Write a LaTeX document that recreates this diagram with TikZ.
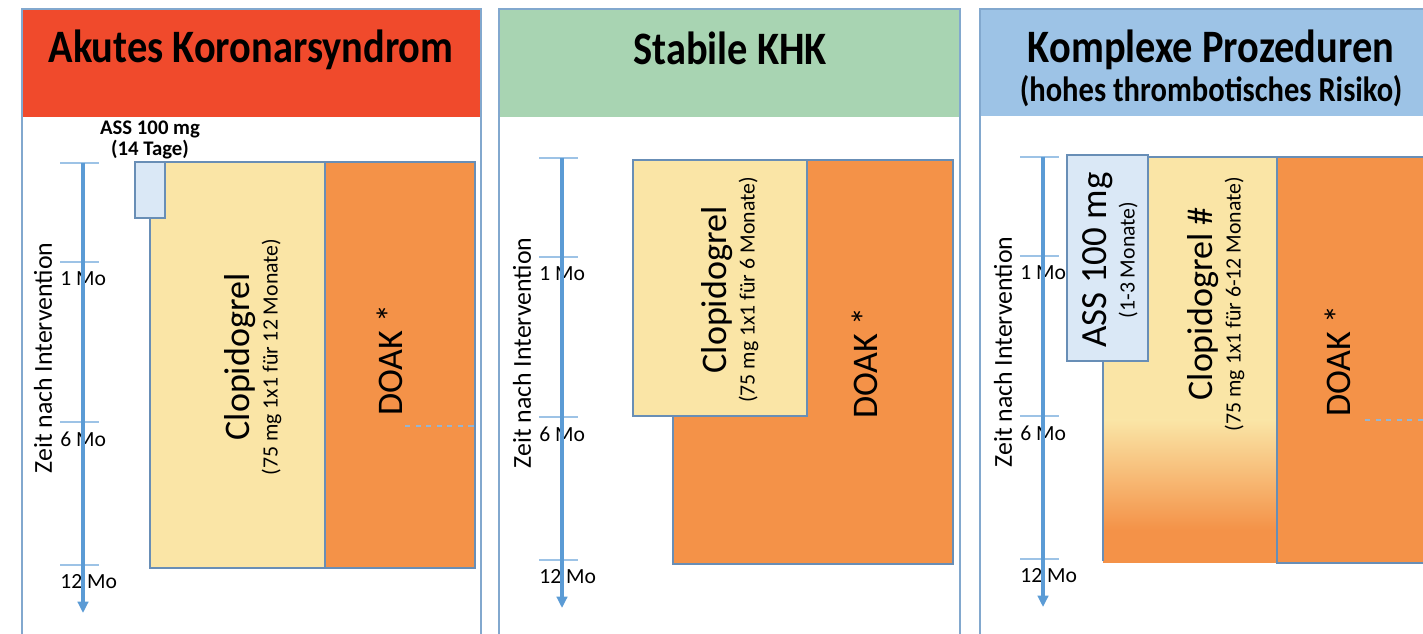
\documentclass[tikz,border=0pt]{standalone}
\usepackage{fontspec}
\setmainfont{Carlito}
\usetikzlibrary{arrows.meta,positioning}

\definecolor{akscol}{RGB}{240,74,44}
\definecolor{stabcol}{RGB}{168,212,178}
\definecolor{kompcol}{RGB}{157,195,230}
\definecolor{panelline}{RGB}{130,168,206}
\definecolor{axiscol}{RGB}{91,155,213}
\definecolor{tickcol}{RGB}{157,195,230}
\definecolor{assfill}{RGB}{218,232,246}
\definecolor{clofill}{RGB}{250,229,166}
\definecolor{doakfill}{RGB}{244,146,72}
\definecolor{boxline}{RGB}{104,142,182}

\newcommand\txtsize[2]{\fontsize{#1}{#2}\selectfont}
\newcommand\talltxt[1]{\scalebox{1}[1.15]{#1}}

\begin{document}
\begin{tikzpicture}[x=0.02cm,y=-0.02cm,
	panelb/.style={draw=panelline,line width=0.9pt},
	titlef/.style={font=\bfseries\txtsize{23}{26}},
	axisl/.style={draw=axiscol,line width=2.2pt,-{Triangle[width=6pt,length=6.5pt]}},
	tickl/.style={draw=tickcol,line width=0.6pt},
	molab/.style={font=\txtsize{12.3}{14},inner sep=0pt},
	zeitlab/.style={font=\txtsize{14.7}{17},rotate=90,inner sep=0pt},
	drugb/.style={draw=boxline,line width=1.1pt},
	assb/.style={drugb,fill=assfill},
	clob/.style={drugb,fill=clofill},
	doakb/.style={drugb,fill=doakfill},
	dashl/.style={draw=tickcol!80!gray,line width=0.7pt,dashed},
	drugtxt/.style={rotate=90,align=center,inner sep=0pt,font=\txtsize{12.4}{16}},
	doaktxt/.style={rotate=90,inner sep=0pt,font=\txtsize{20.5}{24}}
	]

	\useasboundingbox (0,0) rectangle (1423,634);
	\clip (0,0) rectangle (1423,634);

	% panels and headers
	\fill[akscol] (23,10) rectangle (480,117);
	\fill[stabcol] (500,10) rectangle (959,117);
	\fill[kompcol] (981,9) rectangle (1450,116);
	\draw[panelb] (22,9) rectangle (481,650);
	\draw[panelb] (499,9) rectangle (960,650);
	\draw[panelb] (980,9) rectangle (1450,650);

	\node[titlef] (akstitle) at (251,50) {\talltxt{Akutes Koronarsyndrom}};
	\node[titlef] (stabtitle) at (730,48) {\talltxt{Stabile KHK}};
	\node[titlef] (komptitle) at (1211,50) {\talltxt{Komplexe Prozeduren}};
	\node[titlef,font=\bfseries\txtsize{17.4}{20}] (komprisk) at (1211,91) {\talltxt{(hohes thrombotisches Risiko)}};

	% time axes
	\foreach \ax/\ty [count=\p] in {83/163,562/158,1043/157}{
	  \draw[tickl] (\ax-23,\ty) -- (\ax+16,\ty);
	  \foreach \dt/\lab in {99/1,259/6,402/12}{
	    \draw[tickl] (\ax-23,\ty+\dt) -- (\ax+16,\ty+\dt);
	    \node[molab,anchor=west] (mo\lab-\p) at (\ax-23,\ty+\dt+17) {\lab\ Mo};
	  }
	  \draw[axisl] (\ax,\ty) -- (\ax,\ty+450);
	  \node[zeitlab] (zeit-\p) at (\ax-40,\ty+195) {Zeit nach Intervention};
	}

	% Akutes Koronarsyndrom
	\draw[clob] (150,162) rectangle (325,568);
	\draw[doakb] (325,162) rectangle (475,568);
	\draw[assb] (135,162) rectangle (165,218);
	\draw[dashl] (405,426) -- (475,426);
	\node[align=center,font=\bfseries\txtsize{11.8}{10.5}] (ass1) at (150,140) {ASS 100 mg\\(14 Tage)};
	\node[drugtxt] (clo1) at (253,357) {{\txtsize{20.5}{24}Clopidogrel}\\(75 mg 1x1 für 12 Monate)};
	\node[doaktxt] (doak1) at (390,360) {DOAK *};

	% Stabile KHK
	\draw[doakb] (673,160) rectangle (953,564);
	\draw[clob] (633,160) rectangle (807,416);
	\node[drugtxt] (clo2) at (730,290) {{\txtsize{20.5}{24}Clopidogrel}\\(75 mg 1x1 für 6 Monate)};
	\node[doaktxt] (doak2) at (865,363) {DOAK *};

	% Komplexe Prozeduren
	\fill[clofill] (1103,157) rectangle (1277,420);
	\shade[top color=clofill,bottom color=doakfill] (1103,420) rectangle (1277,530);
	\fill[doakfill] (1103,530) rectangle (1277,563);
	\draw[drugb] (1103,561) -- (1103,157) -- (1277,157);
	\draw[doakb] (1277,157) rectangle (1450,563);
	\draw[assb] (1067,155) rectangle (1148,361);
	\draw[dashl] (1365,420) -- (1423,420);
	\node[drugtxt] (ass3) at (1110,260) {{\txtsize{21}{24}ASS 100 mg}\\(1-3 Monate)};
	\node[drugtxt] (clo3) at (1216,304) {{\txtsize{20.5}{24}Clopidogrel \#}\\(75 mg 1x1 für 6-12 Monate)};
	\node[doaktxt] (doak3) at (1338,361) {DOAK *};
\end{tikzpicture}
\end{document}
